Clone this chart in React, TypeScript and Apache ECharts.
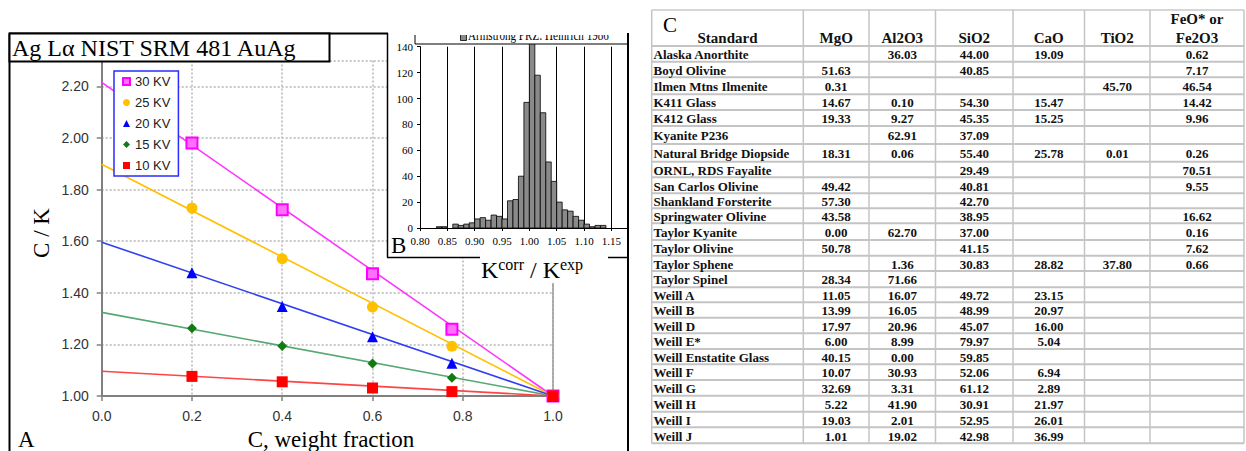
import { useEffect, useRef } from 'react';
import * as echarts from 'echarts';

// ---------------- Panel A: C/K vs weight fraction ----------------
const WEIGHT_FRACTION = [0.2, 0.4, 0.6, 0.776, 1.0];
const KV_NAMES = ['30 KV', '25 KV', '20 KV', '15 KV', '10 KV'];
const CK_30KV = [1.98, 1.722, 1.474, 1.259, 1.0];
const CK_25KV = [1.728, 1.532, 1.345, 1.193, 1.0];
const CK_20KV = [1.478, 1.347, 1.23, 1.127, 1.0];
const CK_15KV = [1.263, 1.194, 1.126, 1.071, 1.0];
const CK_10KV = [1.076, 1.055, 1.031, 1.017, 1.0];
const FIT_X = [0.0, 1.0];
const FIT_30KV = [2.215, 1.0];
const FIT_25KV = [1.898, 1.0];
const FIT_20KV = [1.596, 1.0];
const FIT_15KV = [1.324, 1.0];
const FIT_10KV = [1.096, 1.0];

// ---------------- Panel B: histogram of Kcorr/Kexp ----------------
const HIST_BIN_WIDTH = 0.01;
const HIST_BIN_START = [
  0.8, 0.81, 0.82, 0.83, 0.84, 0.85, 0.86, 0.87, 0.88, 0.89,
  0.9, 0.91, 0.92, 0.93, 0.94, 0.95, 0.96, 0.97, 0.98, 0.99,
  1.0, 1.01, 1.02, 1.03, 1.04, 1.05, 1.06, 1.07, 1.08, 1.09,
  1.1, 1.11, 1.12, 1.13, 1.14,
];
const HIST_COUNT = [
  0, 0, 0, 1, 1, 0, 3, 2, 3, 4,
  7, 8, 6, 10, 9, 7, 21, 22, 40, 97,
  143, 118, 89, 51, 36, 20, 14, 13, 9, 6,
  3, 1, 2, 2, 0,
];
const HIST_LEGEND = 'Armstrong PRZ: Heinrich 1986';

// ---------------- Panel C: table ----------------
const TABLE_HEADERS = ['Standard', 'MgO', 'Al2O3', 'SiO2', 'CaO', 'TiO2', 'FeO* or|Fe2O3'];
const STANDARDS = [
  'Alaska Anorthite', 'Boyd Olivine', 'Ilmen Mtns Ilmenite', 'K411 Glass', 'K412 Glass',
  'Kyanite P236', 'Natural Bridge Diopside', 'ORNL, RDS Fayalite', 'San Carlos Olivine',
  'Shankland Forsterite', 'Springwater Olivine', 'Taylor Kyanite', 'Taylor Olivine',
  'Taylor Sphene', 'Taylor Spinel', 'Weill A', 'Weill B', 'Weill D', 'Weill E*',
  'Weill Enstatite Glass', 'Weill F', 'Weill G', 'Weill H', 'Weill I', 'Weill J',
];
const MGO = ['', '51.63', '0.31', '14.67', '19.33', '', '18.31', '', '49.42', '57.30', '43.58', '0.00', '50.78', '', '28.34', '11.05', '13.99', '17.97', '6.00', '40.15', '10.07', '32.69', '5.22', '19.03', '1.01'];
const AL2O3 = ['36.03', '', '', '0.10', '9.27', '62.91', '0.06', '', '', '', '', '62.70', '', '1.36', '71.66', '16.07', '16.05', '20.96', '8.99', '0.00', '30.93', '3.31', '41.90', '2.01', '19.02'];
const SIO2 = ['44.00', '40.85', '', '54.30', '45.35', '37.09', '55.40', '29.49', '40.81', '42.70', '38.95', '37.00', '41.15', '30.83', '', '49.72', '48.99', '45.07', '79.97', '59.85', '52.06', '61.12', '30.91', '52.95', '42.98'];
const CAO = ['19.09', '', '', '15.47', '15.25', '', '25.78', '', '', '', '', '', '', '28.82', '', '23.15', '20.97', '16.00', '5.04', '', '6.94', '2.89', '21.97', '26.01', '36.99'];
const TIO2 = ['', '', '45.70', '', '', '', '0.01', '', '', '', '', '', '', '37.80', '', '', '', '', '', '', '', '', '', '', ''];
const FEO = ['0.62', '7.17', '46.54', '14.42', '9.96', '', '0.26', '70.51', '9.55', '', '16.62', '0.16', '7.62', '0.66', '', '', '', '', '', '', '', '', '', '', ''];

// ---------------- layout (not data) ----------------
const TABLE_COL_X = [651.7, 803.3, 869, 935.5, 1013, 1084.5, 1150, 1244];
const TABLE_TOP = 10;
const TABLE_ROW_Y = [46, 61.7, 77.3, 94.3, 110, 126, 144, 161.7, 177.3, 193.3, 208.3, 223.3, 240, 255.7, 271, 287.3, 302.3, 317.7, 333.3, 349, 364.3, 380, 395.7, 411.7, 427.3, 443.3];

const SERIF = 'Liberation Serif';
const SANS = 'Liberation Sans';

const SERIES_STYLE = [
  { symbol: 'rect', size: 11, fill: '#FF70FF', stroke: '#FF00FF', bw: 2, line: '#FF33FF' },
  { symbol: 'circle', size: 11, fill: '#FFC000', stroke: '#FFC000', bw: 0, line: '#FFC000' },
  { symbol: 'triangle', size: 11, fill: '#0000FF', stroke: '#0000FF', bw: 0, line: '#3040F0' },
  { symbol: 'diamond', size: 10, fill: '#127A12', stroke: '#127A12', bw: 0, line: '#55A872' },
  { symbol: 'rect', size: 11, fill: '#FF0000', stroke: '#FF0000', bw: 0, line: '#FF4444' },
];

export default function App() {
  const ref = useRef<HTMLDivElement>(null);

  useEffect(() => {
    if (!ref.current) return;
    const chart = echarts.init(ref.current, null, { renderer: 'svg' });

    const ckSets = [CK_30KV, CK_25KV, CK_20KV, CK_15KV, CK_10KV];
    const fitSets = [FIT_30KV, FIT_25KV, FIT_20KV, FIT_15KV, FIT_10KV];

    const series: any[] = [];
    fitSets.forEach((fit, i) => {
      series.push({
        type: 'line',
        name: 'fit ' + KV_NAMES[i],
        xAxisIndex: 0,
        yAxisIndex: 0,
        data: FIT_X.map((x, j) => [x, fit[j]]),
        showSymbol: false,
        symbol: 'none',
        silent: true,
        z: 2,
        lineStyle: { color: SERIES_STYLE[i].line, width: 1.6 },
      });
    });
    ckSets.forEach((vals, i) => {
      const s = SERIES_STYLE[i];
      series.push({
        type: 'scatter',
        name: KV_NAMES[i],
        xAxisIndex: 0,
        yAxisIndex: 0,
        data: WEIGHT_FRACTION.map((x, j) => [x, vals[j]]),
        symbol: s.symbol,
        symbolSize: s.size,
        z: 3,
        itemStyle: { color: s.fill, borderColor: s.stroke, borderWidth: s.bw, opacity: 1 },
      });
    });
    series.push({
      type: 'custom',
      name: 'hist',
      xAxisIndex: 1,
      yAxisIndex: 1,
      z: 6,
      clip: false,
      silent: true,
      encode: { x: 0, y: 1 },
      data: HIST_BIN_START.map((s, i) => [s, HIST_COUNT[i]]),
      renderItem: (_params: any, api: any) => {
        const x0 = api.value(0);
        const c = api.value(1);
        if (!c) return { type: 'group', children: [] };
        const p0 = api.coord([x0, c]);
        const p1 = api.coord([x0 + HIST_BIN_WIDTH, 0]);
        return {
          type: 'rect',
          shape: { x: p0[0], y: p0[1], width: p1[0] - p0[0], height: p1[1] - p0[1] },
          style: { fill: '#8A8A8A', stroke: '#000', lineWidth: 0.8 },
        };
      },
    });

    const g: any[] = [];
    // ---- table ----
    const tLeft = TABLE_COL_X[0];
    const tRight = TABLE_COL_X[TABLE_COL_X.length - 1];
    const tBottom = TABLE_ROW_Y[TABLE_ROW_Y.length - 1];
    g.push({ type: 'line', z: 1, shape: { x1: tLeft, y1: TABLE_TOP, x2: tRight, y2: TABLE_TOP }, style: { stroke: '#C8C8C8', lineWidth: 1.5 } });
    TABLE_ROW_Y.forEach((y) => {
      g.push({ type: 'line', z: 1, shape: { x1: tLeft, y1: y, x2: tRight, y2: y }, style: { stroke: '#C4C4C4', lineWidth: 2 } });
    });
    TABLE_COL_X.forEach((x) => {
      g.push({ type: 'line', z: 1, shape: { x1: x, y1: TABLE_TOP, x2: x, y2: tBottom }, style: { stroke: '#C4C4C4', lineWidth: 1.5 } });
    });
    const colCenter = (c: number) => (TABLE_COL_X[c] + TABLE_COL_X[c + 1]) / 2;
    g.push({ type: 'text', z: 2, x: 663, y: 25, style: { text: 'C', fontFamily: SERIF, fontSize: 21, fill: '#000', align: 'left', verticalAlign: 'middle' } });
    TABLE_HEADERS.forEach((h, c) => {
      const parts = h.split('|');
      if (parts.length === 1) {
        g.push({ type: 'text', z: 2, x: colCenter(c), y: 38, style: { text: h, fontFamily: SERIF, fontWeight: 'bold', fontSize: 15, fill: '#111', align: 'center', verticalAlign: 'middle' } });
      } else {
        g.push({ type: 'text', z: 2, x: colCenter(c), y: 18.5, style: { text: parts[0], fontFamily: SERIF, fontWeight: 'bold', fontSize: 15, fill: '#111', align: 'center', verticalAlign: 'middle' } });
        g.push({ type: 'text', z: 2, x: colCenter(c), y: 38, style: { text: parts[1], fontFamily: SERIF, fontWeight: 'bold', fontSize: 15, fill: '#111', align: 'center', verticalAlign: 'middle' } });
      }
    });
    const cols = [MGO, AL2O3, SIO2, CAO, TIO2, FEO];
    STANDARDS.forEach((name, r) => {
      const yc = (TABLE_ROW_Y[r] + TABLE_ROW_Y[r + 1]) / 2 + 0.8;
      g.push({ type: 'text', z: 2, x: 653.5, y: yc, style: { text: name, fontFamily: SERIF, fontWeight: 'bold', fontSize: 13, fill: '#111', align: 'left', verticalAlign: 'middle' } });
      cols.forEach((col, c) => {
        if (!col[r]) return;
        g.push({ type: 'text', z: 2, x: colCenter(c + 1), y: yc, style: { text: col[r], fontFamily: SERIF, fontWeight: 'bold', fontSize: 13, fill: '#111', align: 'center', verticalAlign: 'middle' } });
      });
    });

    // ---- panel A/B decorations ----
    // solid plot-area edge at x = 1.0 (visible below the inset)
    g.push({ type: 'line', z: 1, shape: { x1: 553, y1: 60.5, x2: 553, y2: 396 }, style: { stroke: '#9A9A9A', lineWidth: 1.5 } });
    // inset white background and label background
    g.push({ type: 'rect', z: 3, shape: { x: 388, y: 20, width: 240, height: 237.5 }, style: { fill: '#fff' } });
    g.push({ type: 'rect', z: 3, shape: { x: 480, y: 257, width: 128, height: 26 }, style: { fill: '#fff' } });
    // inset legend (clipped at top)
    g.push({ type: 'rect', z: 7, shape: { x: 415, y: 18, width: 213, height: 26 }, style: { fill: '#fff', stroke: '#000', lineWidth: 1 } });
    g.push({ type: 'rect', z: 7, shape: { x: 460.5, y: 34.5, width: 6, height: 6 }, style: { fill: '#8A8A8A', stroke: '#000', lineWidth: 0.8 } });
    g.push({ type: 'text', z: 7, x: 468, y: 42, scaleX: 0.74, style: { text: HIST_LEGEND, fontFamily: SERIF, fontSize: 15, fill: '#000', align: 'left', verticalAlign: 'bottom' } });
    g.push({ type: 'rect', z: 8, shape: { x: 389, y: 0, width: 251, height: 35 }, style: { fill: '#fff' } });
    // panel frame
    const frame = { stroke: '#000', lineWidth: 2 };
    g.push({ type: 'line', z: 9, shape: { x1: 9.5, y1: 33.5, x2: 9.5, y2: 452 }, style: frame });
    g.push({ type: 'line', z: 9, shape: { x1: 9, y1: 33.5, x2: 388, y2: 33.5 }, style: frame });
    g.push({ type: 'line', z: 9, shape: { x1: 628, y1: 33, x2: 628, y2: 452 }, style: frame });
    g.push({ type: 'line', z: 9, shape: { x1: 387.5, y1: 33, x2: 387.5, y2: 257.5 }, style: { stroke: '#000', lineWidth: 1.5 } });
    g.push({ type: 'line', z: 9, shape: { x1: 387, y1: 257.5, x2: 480, y2: 257.5 }, style: { stroke: '#000', lineWidth: 1.5 } });
    g.push({ type: 'line', z: 9, shape: { x1: 608, y1: 257.5, x2: 628, y2: 257.5 }, style: { stroke: '#000', lineWidth: 1.5 } });
    // title box
    g.push({ type: 'rect', z: 9, shape: { x: 9.5, y: 33.5, width: 320, height: 28 }, style: { fill: '#fff', stroke: '#000', lineWidth: 2 } });
    g.push({ type: 'text', z: 10, x: 12, y: 59.5, style: { text: 'Ag L\u03B1 NIST SRM 481 AuAg', fontFamily: SERIF, fontSize: 24, fill: '#000', align: 'left', verticalAlign: 'bottom' } });
    // axis titles and panel letters
    g.push({ type: 'text', z: 9, x: 41, y: 233, rotation: Math.PI / 2, style: { text: 'C / K', fontFamily: SERIF, fontSize: 23, fill: '#000', align: 'center', verticalAlign: 'middle' } });
    g.push({ type: 'text', z: 9, x: 331, y: 439, style: { text: 'C, weight fraction', fontFamily: SERIF, fontSize: 23, fill: '#000', align: 'center', verticalAlign: 'middle' } });
    g.push({ type: 'text', z: 9, x: 18, y: 439, style: { text: 'A', fontFamily: SERIF, fontSize: 23, fill: '#000', align: 'left', verticalAlign: 'middle' } });
    g.push({ type: 'text', z: 9, x: 391, y: 245, style: { text: 'B', fontFamily: SERIF, fontSize: 23, fill: '#000', align: 'left', verticalAlign: 'middle' } });
    g.push({
      type: 'text', z: 9, x: 532, y: 282,
      style: {
        text: '{k|K}{s|corr}{k| / K}{s|exp}',
        align: 'center', verticalAlign: 'bottom',
        rich: {
          k: { fontFamily: SERIF, fontSize: 24, fill: '#000', lineHeight: 26, verticalAlign: 'bottom' },
          s: { fontFamily: SERIF, fontSize: 16, fill: '#000', lineHeight: 16, verticalAlign: 'top' },
        },
      },
    });

    const option: any = {
      animation: false,
      backgroundColor: '#fff',
      textStyle: { fontFamily: SANS },
      grid: [
        { left: 101.7, top: 60.5, width: 451.3, height: 335.5, show: false },
        { left: 420, top: 46.7, width: 207.8, height: 181.3, show: false },
      ],
      legend: {
        data: KV_NAMES,
        orient: 'vertical',
        left: 114,
        top: 71,
        itemWidth: 7,
        itemHeight: 7,
        itemGap: 8,
        padding: [4, 8, 4, 8],
        borderColor: '#2B2BFF',
        borderWidth: 1.5,
        backgroundColor: '#fff',
        selectedMode: false,
        z: 4,
        textStyle: { fontFamily: SANS, fontSize: 13, color: '#222', lineHeight: 13 },
      },
      xAxis: [
        {
          type: 'value', gridIndex: 0, min: 0, max: 1, interval: 0.2,
          axisLine: { onZero: false, lineStyle: { color: '#808080', width: 2 } },
          axisTick: { show: true, length: 5, lineStyle: { color: '#808080', width: 1.5 } },
          axisLabel: { formatter: (v: number) => v.toFixed(1), fontFamily: SANS, fontSize: 14, color: '#333', margin: 13 },
          splitLine: { show: true, lineStyle: { color: '#C8C8C8', type: 'dotted', width: 2 } },
        },
        {
          type: 'value', gridIndex: 1, min: 0.8, max: 1.18, interval: 0.05, z: 5,
          axisLine: { onZero: false, lineStyle: { color: '#000', width: 1 } },
          axisTick: { show: true, length: 3, lineStyle: { color: '#000', width: 1 } },
          axisLabel: { formatter: (v: number) => v.toFixed(2), showMaxLabel: false, fontFamily: SERIF, fontSize: 11, color: '#000', margin: 7 },
          splitLine: { show: true, lineStyle: { color: '#000', width: 1 } },
        },
      ],
      yAxis: [
        {
          type: 'value', gridIndex: 0, min: 1.0, max: 2.3, interval: 0.2,
          axisLine: { show: true, onZero: false, lineStyle: { color: '#808080', width: 2 } },
          axisTick: { show: true, length: 5, lineStyle: { color: '#808080', width: 1.5 } },
          axisLabel: { formatter: (v: number) => v.toFixed(2), showMaxLabel: false, fontFamily: SANS, fontSize: 14, color: '#333', margin: 13 },
          splitLine: { show: true, lineStyle: { color: '#C8C8C8', type: 'dotted', width: 2 } },
        },
        {
          type: 'value', gridIndex: 1, min: 0, max: 140, interval: 20, z: 5,
          axisLine: { show: true, onZero: false, lineStyle: { color: '#000', width: 1 } },
          axisTick: { show: true, length: 3, lineStyle: { color: '#000', width: 1 } },
          axisLabel: { fontFamily: SERIF, fontSize: 11, color: '#000', margin: 7 },
          splitLine: { show: false },
        },
      ],
      series,
      graphic: { elements: g },
    };

    chart.setOption(option);
    return () => chart.dispose();
  }, []);

  return (
    <div
      ref={ref}
      style={{ position: 'absolute', left: 0, top: 0, width: 1246, height: 451, background: '#fff' }}
    />
  );
}
